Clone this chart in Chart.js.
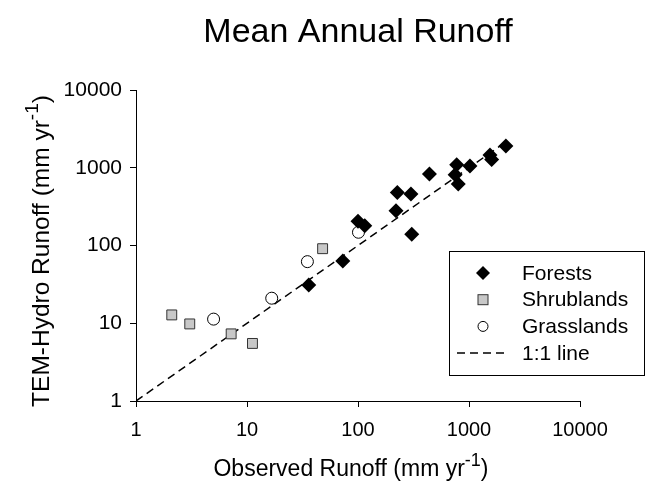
<!DOCTYPE html>
<html>
<head>
<meta charset="utf-8">
<script src="https://cdn.jsdelivr.net/npm/chart.js@4.4.0/dist/chart.umd.min.js"></script>
<style>
  html, body { margin: 0; padding: 0; background: #fff; }
  canvas { display: block; }
</style>
</head>
<body>
<canvas id="runoff" width="647" height="487"></canvas>
<script>
// axis ticks (log scale, decades only)
const tickValues = [1, 10, 100, 1000, 10000];

// Forests: observed vs TEM-Hydro runoff (mm/yr)
const forestObs = [36, 73, 100, 115, 220, 305, 226, 300, 440, 775, 1020, 750, 800, 1545, 1600, 2150];
const forestSim = [31, 63, 205, 180, 280, 140, 480, 460, 830, 1090, 1050, 810, 620, 1460, 1280, 1910];

// Shrublands
const shrubObs = [2.1, 3.05, 7.2, 11.2, 48];
const shrubSim = [12.8, 9.8, 7.3, 5.5, 91];

// Grasslands
const grassObs = [5, 16.7, 35, 101];
const grassSim = [11.3, 21, 62, 148];

// 1:1 reference line
const lineObs = [1, 2000];
const lineSim = [1, 2000];

const FONT = "'Liberation Sans', Arial, Helvetica, sans-serif";

const toPoints = (xs, ys) => xs.map((x, i) => ({ x: x, y: ys[i] }));

const legendItems = [
  { label: "Forests", kind: "diamond" },
  { label: "Shrublands", kind: "square" },
  { label: "Grasslands", kind: "circle" },
  { label: "1:1 line", kind: "dash" },
];

// draws a title with a "-1" superscript before the closing bracket
function drawSupText(ctx, main, sup, tail, size, cx, y) {
  ctx.font = size + "px " + FONT;
  const w1 = ctx.measureText(main).width;
  const w3 = ctx.measureText(tail).width;
  const supSize = Math.round(size * 0.78);
  ctx.font = supSize + "px " + FONT;
  const w2 = ctx.measureText(sup).width;
  let x = cx - (w1 + w2 + w3) / 2;
  ctx.textAlign = "left";
  ctx.textBaseline = "alphabetic";
  ctx.font = size + "px " + FONT;
  ctx.fillText(main, x, y);
  x += w1;
  ctx.font = supSize + "px " + FONT;
  ctx.fillText(sup, x, y - size * 0.45);
  x += w2;
  ctx.font = size + "px " + FONT;
  ctx.fillText(tail, x, y);
}

function drawMarker(ctx, kind, x, y) {
  ctx.save();
  ctx.lineWidth = 1;
  if (kind === "diamond") {
    ctx.fillStyle = "#000";
    ctx.beginPath();
    ctx.moveTo(x, y - 7);
    ctx.lineTo(x + 7, y);
    ctx.lineTo(x, y + 7);
    ctx.lineTo(x - 7, y);
    ctx.closePath();
    ctx.fill();
  } else if (kind === "square") {
    ctx.fillStyle = "#c8c8c8";
    ctx.strokeStyle = "#333";
    ctx.fillRect(x - 5, y - 5, 10, 10);
    ctx.strokeRect(x - 5, y - 5, 10, 10);
  } else if (kind === "circle") {
    ctx.fillStyle = "#fff";
    ctx.strokeStyle = "#000";
    ctx.beginPath();
    ctx.arc(x, y, 5, 0, Math.PI * 2);
    ctx.fill();
    ctx.stroke();
  } else {
    ctx.strokeStyle = "#000";
    ctx.lineWidth = 1.5;
    ctx.setLineDash([8, 5]);
    ctx.beginPath();
    ctx.moveTo(x - 26, y);
    ctx.lineTo(x + 26, y);
    ctx.stroke();
  }
  ctx.restore();
}

// titles and the boxed legend inside the plot
const annotations = {
  id: "annotations",
  afterDraw(chart) {
    const ctx = chart.ctx;
    const area = chart.chartArea;
    ctx.save();
    ctx.fillStyle = "#000";

    ctx.font = "34px " + FONT;
    ctx.textAlign = "center";
    ctx.textBaseline = "alphabetic";
    ctx.fillText("Mean Annual Runoff", (area.left + area.right) / 2, 42);

    drawSupText(ctx, "Observed Runoff (mm yr", "-1", ")", 23, 351, 476);

    ctx.save();
    ctx.translate(49, 251);
    ctx.rotate(-Math.PI / 2);
    drawSupText(ctx, "TEM-Hydro Runoff (mm yr", "-1", ")", 24.5, 0, 0);
    ctx.restore();

    // legend
    const bx = 449, by = 251, bw = 195, bh = 124;
    ctx.fillStyle = "#fff";
    ctx.fillRect(bx, by, bw, bh);
    ctx.strokeStyle = "#000";
    ctx.lineWidth = 1;
    ctx.strokeRect(bx + 0.5, by + 0.5, bw, bh);
    legendItems.forEach((item, i) => {
      const y = 273 + i * 26.7;
      drawMarker(ctx, item.kind, 483, y);
      ctx.fillStyle = "#000";
      ctx.font = "21px " + FONT;
      ctx.textAlign = "left";
      ctx.textBaseline = "middle";
      ctx.fillText(item.label, 522, y + 1);
    });
    ctx.restore();
  },
};

const logAxis = (pos, extra) => Object.assign({
  type: "logarithmic",
  position: pos,
  min: 1,
  max: 10000,
  afterBuildTicks: (axis) => {
    axis.ticks = tickValues.map((v) => ({ value: v }));
  },
  border: { display: true, color: "#000", width: 1 },
  grid: { drawOnChartArea: false, drawTicks: true, tickLength: 6, color: "#000" },
}, extra);

new Chart(document.getElementById("runoff"), {
  type: "scatter",
  plugins: [annotations],
  data: {
    datasets: [
      {
        label: "Forests",
        data: toPoints(forestObs, forestSim),
        pointStyle: "rectRot",
        pointRadius: 7.5,
        backgroundColor: "#000",
        borderColor: "#000",
        borderWidth: 0,
      },
      {
        label: "Shrublands",
        data: toPoints(shrubObs, shrubSim),
        pointStyle: "rect",
        pointRadius: 7,
        backgroundColor: "#c8c8c8",
        borderColor: "#333",
        borderWidth: 1,
      },
      {
        label: "Grasslands",
        data: toPoints(grassObs, grassSim),
        pointStyle: "circle",
        pointRadius: 6,
        backgroundColor: "#fff",
        borderColor: "#000",
        borderWidth: 1,
      },
      {
        label: "1:1 line",
        data: toPoints(lineObs, lineSim),
        showLine: true,
        pointRadius: 0,
        borderColor: "#000",
        borderWidth: 1.5,
        borderDash: [8, 5],
      },
    ],
  },
  options: {
    responsive: false,
    animation: false,
    layout: { padding: { left: 0, right: 67, top: 90, bottom: 0 } },
    plugins: {
      legend: { display: false },
      tooltip: { enabled: false },
    },
    scales: {
      x: logAxis("bottom", {
        afterFit: (s) => { s.height = 86; },
        ticks: {
          color: "#000",
          font: { family: FONT, size: 20 },
          padding: 11,
          maxRotation: 0,
          callback: (v) => String(v),
        },
      }),
      y: logAxis("left", {
        afterFit: (s) => { s.width = 136; },
        ticks: {
          color: "#000",
          font: { family: FONT, size: 21 },
          padding: 8,
          callback: (v) => String(v),
        },
      }),
    },
  },
});
</script>
</body>
</html>
